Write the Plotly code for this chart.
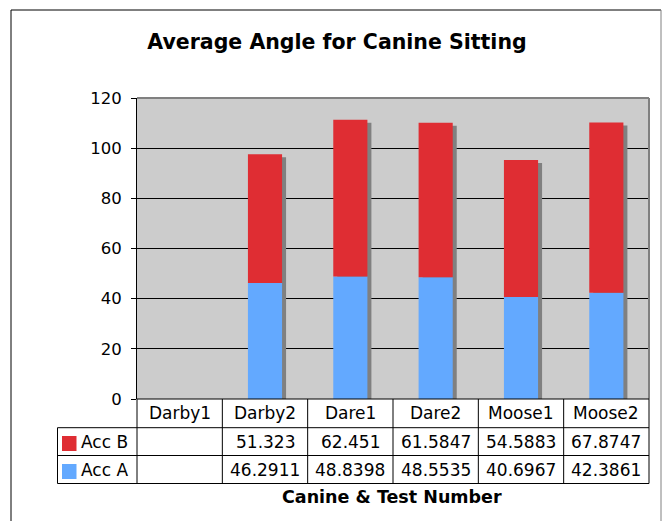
import plotly.graph_objects as go

categories = ['Darby1', 'Darby2', 'Dare1', 'Dare2', 'Moose1', 'Moose2']
acc_a = [None, 46.2911, 48.8398, 48.5535, 40.6967, 42.3861]
acc_b = [None, 51.323, 62.451, 61.5847, 54.5883, 67.8747]
y_ticks = [0, 20, 40, 60, 80, 100, 120]

W, H = 662, 521
L, R, T, B = 137, 649, 98, 399   # plot area in pixels
FONT = 'DejaVu Sans'
RED = '#DF2D33'
BLUE = '#63A9FF'


def px(x):
    return (x - L) / (R - L)


def py(y):
    return (B - y) / (B - T)


totals = [a + b if a is not None else None for a, b in zip(acc_a, acc_b)]
n = len(categories)

fig = go.Figure()
# bar shadow
fig.add_trace(go.Bar(x=categories, y=totals, base=-1.2, width=0.4, offset=-0.153,
                     marker=dict(color='#808080', line_width=0), showlegend=False,
                     hoverinfo='skip'))
fig.add_trace(go.Bar(x=categories, y=acc_a, base=0, width=0.4, offset=-0.2,
                     name='Acc A', marker=dict(color=BLUE, line_width=0)))
fig.add_trace(go.Bar(x=categories, y=acc_b, base=acc_a, width=0.4, offset=-0.2,
                     name='Acc B', marker=dict(color=RED, line_width=0)))

shapes = []
black = dict(color='black', width=1)
# outer frame
shapes.append(dict(type='line', xref='paper', yref='paper', x0=px(11), x1=px(661),
                   y0=py(10), y1=py(10), line=black))
shapes.append(dict(type='line', xref='paper', yref='paper', x0=px(11), x1=px(11),
                   y0=py(10), y1=py(540), line=black))
shapes.append(dict(type='line', xref='paper', yref='paper', x0=px(661), x1=px(661),
                   y0=py(10), y1=py(540), line=dict(color='#808080', width=1)))
# plot area top/right border
shapes.append(dict(type='line', xref='paper', yref='paper', x0=0, x1=1, y0=1, y1=1,
                   line=dict(color='#808080', width=2)))
shapes.append(dict(type='line', xref='paper', yref='paper', x0=1, x1=1, y0=0, y1=1,
                   line=dict(color='#808080', width=2)))

# data table lines
row_lines = [py(427.7), py(455.5), py(483.5)]
tab_left = px(57.5)
shapes.append(dict(type='line', xref='paper', yref='paper', x0=0, x1=1, y0=0, y1=0,
                   line=black))
for yl in row_lines:
    shapes.append(dict(type='line', xref='paper', yref='paper', x0=tab_left, x1=1,
                       y0=yl, y1=yl, line=black))
for k in range(n + 1):
    shapes.append(dict(type='line', xref='paper', yref='paper', x0=k / n, x1=k / n,
                       y0=0, y1=row_lines[-1], line=black))
shapes.append(dict(type='line', xref='paper', yref='paper', x0=tab_left, x1=tab_left,
                   y0=row_lines[0], y1=row_lines[-1], line=black))

# legend keys
for color, (y0, y1) in [(RED, (436, 451)), (BLUE, (464, 479))]:
    shapes.append(dict(type='rect', xref='paper', yref='paper', x0=px(62), x1=px(76.5),
                       y0=py(y1), y1=py(y0), fillcolor=color, line_width=0))

annotations = []
cell_font = dict(family=FONT, size=17, color='black')
row_y = [py(413), py(441.5), py(469.5)]
for i, c in enumerate(categories):
    annotations.append(dict(x=(i + 0.5) / n, y=row_y[0], xref='paper', yref='paper',
                            text=c, showarrow=False, xanchor='center',
                            yanchor='middle', font=cell_font))
for r, (label, vals) in enumerate([('Acc B', acc_b), ('Acc A', acc_a)]):
    annotations.append(dict(x=px(79), y=row_y[r + 1], xref='paper', yref='paper',
                            text=label, showarrow=False, xanchor='left',
                            yanchor='middle', font=cell_font))
    for i, v in enumerate(vals):
        if v is None:
            continue
        annotations.append(dict(x=(i + 0.5) / n, y=row_y[r + 1], xref='paper',
                                yref='paper', text=str(v), showarrow=False,
                                xanchor='center', yanchor='middle', font=cell_font))
annotations.append(dict(x=px(392), y=py(497), xref='paper', yref='paper',
                        text='<b>Canine & Test Number</b>', showarrow=False,
                        xanchor='center', yanchor='middle',
                        font=dict(family=FONT, size=17.5, color='black')))

fig.update_layout(
    width=W, height=H,
    margin=dict(l=L, r=W - R, t=T, b=H - B, pad=0),
    paper_bgcolor='white',
    plot_bgcolor='#CCCCCC',
    barmode='overlay',
    showlegend=False,
    font=dict(family=FONT, color='black'),
    title=dict(text='<b>Average Angle for Canine Sitting</b>', x=337 / W, xref='container',
               xanchor='center', y=1 - 42 / H, yref='container', yanchor='middle',
               font=dict(family=FONT, size=20.5, color='black')),
    xaxis=dict(range=[-0.5, n - 0.5], showticklabels=False, showgrid=False,
               zeroline=False, showline=False, ticks=''),
    yaxis=dict(range=[0, 120], tickvals=y_ticks, showgrid=True, gridcolor='black',
               gridwidth=1, zeroline=False, showline=True, linecolor='black',
               linewidth=1, ticks='outside', ticklen=5, tickcolor='black',
               ticklabelstandoff=6,
               tickfont=dict(family=FONT, size=16.5, color='black')),
    shapes=shapes,
    annotations=annotations,
)

fig.write_html('out.html', config={'displayModeBar': False},
               post_script="document.body.style.margin = '0';")
